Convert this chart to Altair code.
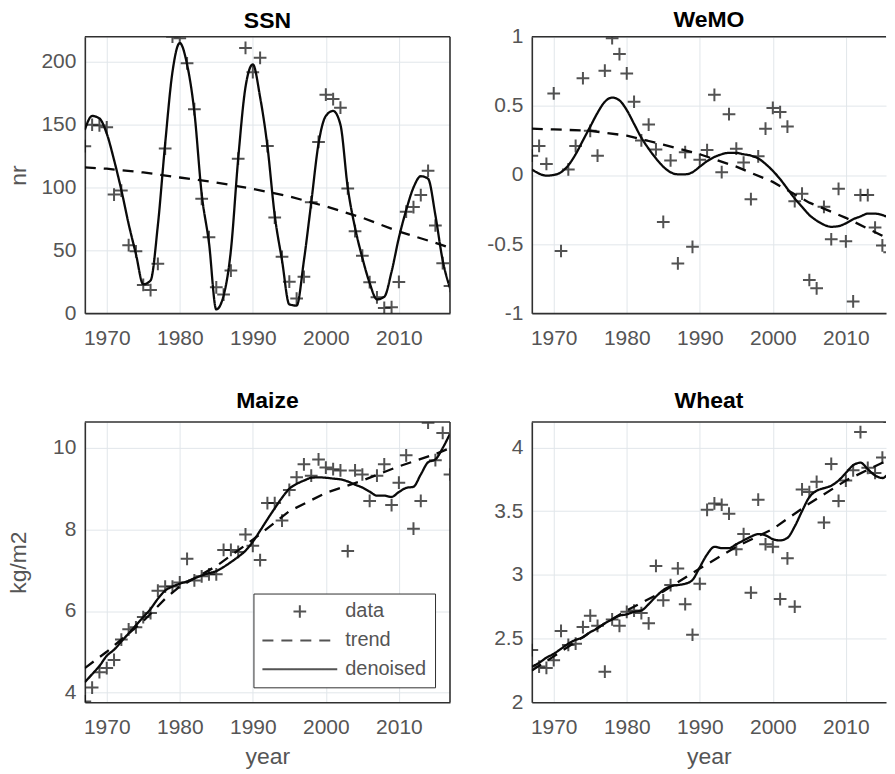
import altair as alt
import pandas as pd

YEARS = list(range(1967, 2018))
X_TICKS = [1970, 1980, 1990, 2000, 2010]
SERIES = ["data", "trend", "denoised"]

# ---------------- SSN ----------------
SSN_DATA = [132.9, 150.0, 149.4, 148.0, 94.4, 97.6, 54.1, 49.2, 22.5, 18.4,
            39.3, 131.0, 220.1, 218.9, 198.9, 162.4, 91.0, 60.5, 20.6, 14.8,
            33.9, 123.0, 211.1, 191.8, 203.3, 133.0, 76.1, 44.9, 25.1, 11.6,
            28.9, 88.3, 136.3, 173.9, 170.4, 163.6, 99.3, 65.3, 45.8, 24.7,
            12.6, 4.2, 4.8, 24.9, 80.8, 84.5, 94.0, 113.3, 69.8, 39.8, 21.7]
SSN_TREND_YEARS = [1967, 1970, 1975, 1980, 1985, 1990, 1995, 2000, 2005, 2010, 2015, 2017]
SSN_TREND = [116, 115, 112, 108, 104, 99, 93, 85, 76, 65, 56, 52]
SSN_DENOISED = [146, 157, 155, 143, 122, 98, 71, 47, 23, 26,
                70, 135, 192, 215, 198, 160, 95, 56, 3, 14,
                50, 123, 180, 198, 172, 133, 78, 42, 7, 6,
                42, 88, 135, 157, 161, 150, 100, 68, 44, 24,
                11, 13, 33, 60, 82, 100, 109, 107, 78, 42, 20]

# ---------------- WeMO ----------------
WEMO_DATA = [0.14, 0.21, 0.08, 0.59, -0.55, 0.04, 0.21, 0.70, 0.32, 0.14,
             0.755, 0.99, 0.875, 0.735, 0.53, 0.25, 0.365, 0.185, -0.34, 0.105,
             -0.64, 0.165, -0.52, 0.11, 0.18, 0.58, 0.02, 0.44, 0.19, 0.09,
             -0.175, 0.135, 0.335, 0.485, 0.455, 0.35, -0.19, -0.135, -0.76, -0.82,
             -0.23, -0.465, -0.10, -0.48, -0.915, -0.145, -0.145, -0.38, -0.51, -0.56, -0.60]
WEMO_TREND_YEARS = [1967, 1970, 1975, 1980, 1985, 1990, 1995, 2000, 2005, 2010, 2015, 2017]
WEMO_TREND = [0.335, 0.33, 0.32, 0.285, 0.22, 0.15, 0.06, -0.05, -0.20, -0.31, -0.44, -0.50]
WEMO_DENOISED = [0.04, 0.01, -0.005, 0.0, 0.02, 0.07, 0.15, 0.25, 0.35, 0.45,
                 0.53, 0.56, 0.54, 0.47, 0.37, 0.27, 0.19, 0.12, 0.06, 0.02,
                 0.005, 0.005, 0.02, 0.06, 0.10, 0.13, 0.15, 0.16, 0.16, 0.15,
                 0.14, 0.12, 0.08, 0.03, -0.03, -0.10, -0.17, -0.23, -0.29, -0.33,
                 -0.36, -0.375, -0.37, -0.35, -0.32, -0.30, -0.28, -0.28, -0.29, -0.31, -0.33]

# ---------------- Maize ----------------
MAIZE_DATA = [3.78, 4.12, 4.5, 4.6, 4.8, 5.3, 5.55, 5.6, 5.85, 5.95,
              6.5, 6.6, 6.6, 6.7, 7.28, 6.75, 6.85, 6.9, 6.9, 7.5,
              7.5, 7.45, 7.88, 7.6, 7.25, 8.65, 8.65, 8.22, 8.97, 9.28,
              9.6, 9.32, 9.72, 9.52, 9.48, 9.45, 7.47, 9.45, 9.35, 8.7,
              9.32, 9.6, 8.6, 9.15, 9.82, 8.02, 8.7, 10.62, 9.7, 10.37, 9.35]
MAIZE_TREND_YEARS = [1967, 1970, 1975, 1978, 1980, 1985, 1990, 1995, 2000, 2005, 2010, 2015, 2017]
MAIZE_TREND = [4.6, 5.0, 5.75, 6.3, 6.6, 7.1, 7.75, 8.45, 8.9, 9.2, 9.55, 9.85, 10.0]
MAIZE_DENOISED = [4.25, 4.45, 4.65, 4.9, 5.05, 5.25, 5.45, 5.65, 5.85, 6.05,
                  6.3, 6.5, 6.6, 6.67, 6.73, 6.8, 6.87, 6.93, 6.98, 7.08,
                  7.2, 7.33, 7.48, 7.7, 7.97, 8.25, 8.52, 8.78, 9.0, 9.12,
                  9.2, 9.27, 9.28, 9.27, 9.25, 9.23, 9.18, 9.1, 9.03, 8.93,
                  8.83, 8.83, 8.8, 8.92, 9.02, 9.05, 9.35, 9.65, 9.72, 10.0, 10.35]

# ---------------- Wheat ----------------
WHEAT_DATA = [2.41, 2.28, 2.27, 2.33, 2.56, 2.45, 2.46, 2.59, 2.68, 2.6,
              2.24, 2.65, 2.6, 2.71, 2.72, 2.7, 2.62, 3.07, 2.8, 2.92,
              3.05, 2.77, 2.53, 2.93, 3.51, 3.56, 3.55, 3.48, 3.2, 3.32,
              2.86, 3.59, 3.24, 3.22, 2.81, 3.13, 2.75, 3.67, 3.65, 3.73,
              3.41, 3.87, 3.58, 3.74, 3.82, 4.12, 3.84, 3.8, 3.92, 4.2, 3.85]
WHEAT_TREND_YEARS = [1967, 1970, 1975, 1980, 1985, 1990, 1995, 2000, 2005, 2010, 2015, 2017]
WHEAT_TREND = [2.25, 2.36, 2.55, 2.72, 2.87, 3.05, 3.22, 3.36, 3.56, 3.74, 3.88, 3.92]
WHEAT_DENOISED = [2.28, 2.31, 2.35, 2.38, 2.42, 2.46, 2.49, 2.51, 2.55, 2.58,
                  2.62, 2.65, 2.68, 2.69, 2.71, 2.72, 2.77, 2.83, 2.88, 2.91,
                  2.92, 2.93, 2.96, 3.06, 3.16, 3.22, 3.21, 3.21, 3.24, 3.27,
                  3.3, 3.32, 3.31, 3.28, 3.27, 3.29, 3.38, 3.5, 3.61, 3.66,
                  3.68, 3.7, 3.74, 3.8, 3.86, 3.88, 3.83, 3.78, 3.76, 3.8, 3.84]

INK = "#0a0a0a"
FRAME = "#303030"
TXT = "#555555"
FONT = "Liberation Sans"
SYM_SIZE = 5625  # symbol area: sqrt = 75 px legend line length
PLUS = "M-0.17,0L0.17,0M0,-0.17L0,0.17"
LEGLINE = "M-1,0L1,0"
LABEL_EXPR = "datum.value < 0 ? '-' + format(-datum.value, '~g') : format(datum.value, '~g')"


def panel(title, values, t_years, t_vals, smooth, ydom, yticks, ytitle, xtitle,
          width, height, xmax, show_legend, right_frame, extent, title_offset):
    pts_df = pd.DataFrame({"year": YEARS, "value": values, "series": ["data"] * len(YEARS)})
    trend_df = pd.DataFrame({"year": t_years, "value": t_vals, "series": ["trend"] * len(t_years)})
    den_df = pd.DataFrame({"year": YEARS, "value": smooth, "series": ["denoised"] * len(YEARS)})
    edge_df = pd.DataFrame({"ytop": [ydom[1]], "xright": [xmax]})

    xs = alt.Scale(domain=[1967, xmax], nice=False, zero=False)
    ys = alt.Scale(domain=ydom, nice=False, zero=False)

    if show_legend:
        leg = alt.Legend(title=None, orient="bottom-right", offset=15,
                         labelFont=FONT, labelFontSize=20, labelColor=TXT,
                         symbolSize=SYM_SIZE, symbolStrokeWidth=2, symbolStrokeColor=INK,
                         symbolFillColor="transparent", clipHeight=20,
                         labelOffset=7, rowPadding=9,
                         padding=8, strokeColor=FRAME, fillColor="white")
    else:
        leg = None

    shape_enc = alt.Shape("series:N", scale=alt.Scale(domain=SERIES, range=[PLUS, LEGLINE, LEGLINE]), legend=leg)
    dash_enc = alt.StrokeDash("series:N", scale=alt.Scale(domain=SERIES, range=[[1, 0], [11, 8], [1, 0]]), legend=leg)

    x_main = alt.Axis(values=X_TICKS, format="d", title=xtitle, grid=True, ticks=False, tickSize=0,
                      labelPadding=14, labelFlush=False, labelOverlap=False, domain=True,
                      titlePadding=8)
    y_main = alt.Axis(values=yticks, labelExpr=LABEL_EXPR, title=ytitle, grid=True, ticks=False, tickSize=0,
                      labelPadding=9, labelFlush=False, labelOverlap=False, domain=True,
                      minExtent=extent, maxExtent=extent, titlePadding=10)

    den = alt.Chart(den_df).mark_line(color=INK, strokeWidth=2.3, clip=True, interpolate="monotone").encode(
        x=alt.X("year:Q", scale=xs, axis=None),
        y=alt.Y("value:Q", scale=ys, axis=None),
        strokeDash=dash_enc,
    )
    trend = alt.Chart(trend_df).mark_line(color=INK, strokeWidth=2.3, clip=True).encode(
        x=alt.X("year:Q", scale=xs, axis=None),
        y=alt.Y("value:Q", scale=ys, axis=None),
        strokeDash=dash_enc,
    )
    pts = alt.Chart(pts_df).mark_point(color=INK, size=SYM_SIZE, strokeWidth=2, filled=False, clip=True).encode(
        x=alt.X("year:Q", scale=xs, axis=x_main),
        y=alt.Y("value:Q", scale=ys, axis=y_main),
        shape=shape_enc,
    )
    # frame: top edge (and right edge for the left-hand panels) drawn at the scale limits
    top_edge = alt.Chart(edge_df).mark_rule(color=FRAME, strokeWidth=1.6).encode(
        y=alt.Y("ytop:Q", scale=ys, axis=None)
    )
    layers = [den, trend, pts, top_edge]
    if right_frame:
        layers.append(alt.Chart(edge_df).mark_rule(color=FRAME, strokeWidth=1.6).encode(
            x=alt.X("xright:Q", scale=xs, axis=None)
        ))
    return alt.layer(*layers).resolve_axis(x="independent", y="independent").properties(
        width=width, height=height,
        title=alt.TitleParams(title, fontSize=23, fontWeight="bold", color="black", font=FONT,
                              offset=title_offset, anchor="middle"),
    )


LW, RW = 366, 355
R_XMAX = 1967 + RW / 7.32

ssn = panel("SSN", SSN_DATA, SSN_TREND_YEARS, SSN_TREND, SSN_DENOISED, [0, 220], [0, 50, 100, 150, 200],
            "nr", None, LW, 277, 2017, False, True, 44, 3.5)
wemo = panel("WeMO", WEMO_DATA, WEMO_TREND_YEARS, WEMO_TREND, WEMO_DENOISED, [-1, 1], [-1, -0.5, 0, 0.5, 1],
             None, None, RW, 277, R_XMAX, False, False, 45, -6.5)
maize = panel("Maize", MAIZE_DATA, MAIZE_TREND_YEARS, MAIZE_TREND, MAIZE_DENOISED, [3.76, 10.64], [4, 6, 8, 10],
              "kg/m2", "year", LW, 281, 2017, True, True, 44, 8.5)
wheat = panel("Wheat", WHEAT_DATA, WHEAT_TREND_YEARS, WHEAT_TREND, WHEAT_DENOISED, [2, 4.2], [2, 2.5, 3, 3.5, 4],
              None, "year", RW, 281, R_XMAX, False, False, 45, 8.5)

chart = alt.concat(ssn, wemo, maize, wheat, columns=2, spacing={"row": 41, "column": 35}).resolve_scale(
    x="independent", y="independent", shape="independent", strokeDash="independent"
).resolve_legend(shape="independent", strokeDash="independent").properties(
    padding={"left": 0, "top": 0, "right": 0, "bottom": 0}
).configure_view(stroke=None).configure_axis(
    labelFont=FONT, labelFontSize=21, labelColor=TXT,
    titleFont=FONT, titleFontSize=23, titleColor=TXT, titleFontWeight="normal",
    domainColor=FRAME, domainWidth=1.6, gridColor="#e1e6ea", gridWidth=1,
).configure_title(font=FONT)

chart.save("out.html", embed_options={"renderer": "svg", "actions": False})
